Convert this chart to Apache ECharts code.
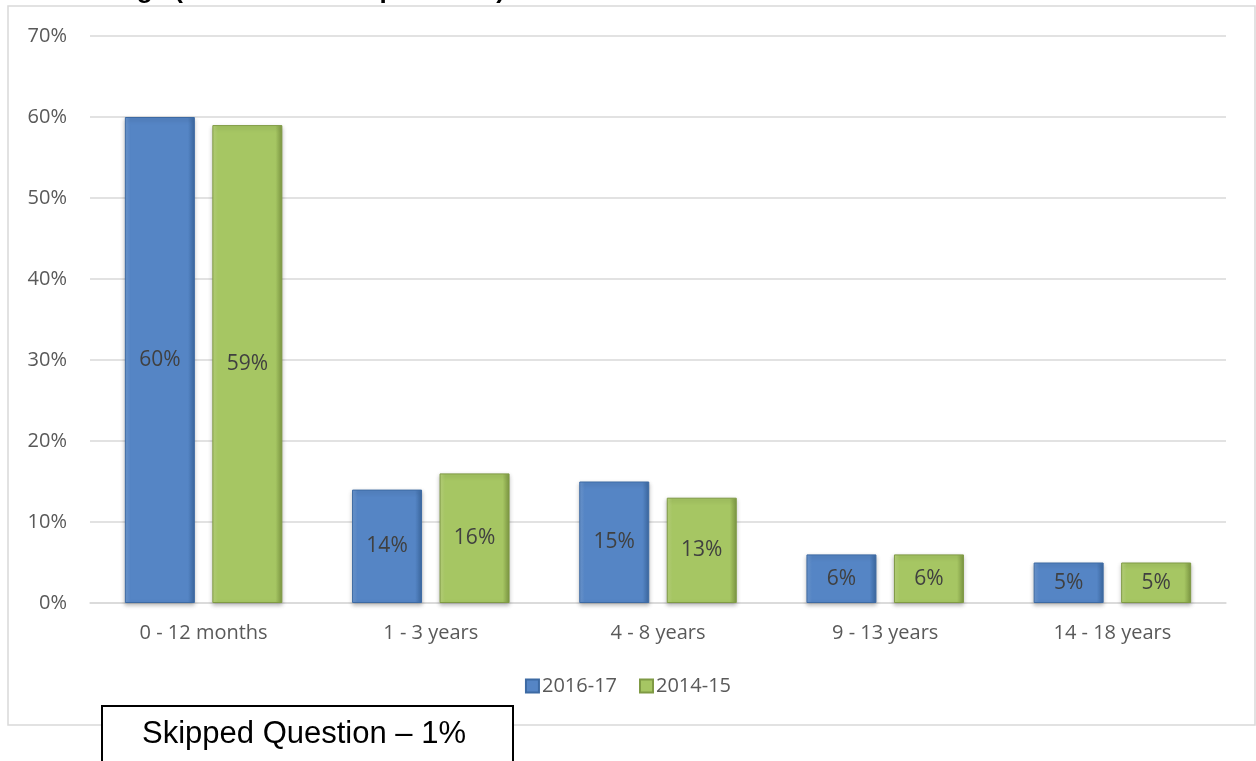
<!DOCTYPE html>
<html>
<head>
<meta charset="utf-8">
<script src="https://cdn.jsdelivr.net/npm/echarts@6/dist/echarts.min.js"></script>
<style>
  html, body { margin: 0; padding: 0; background: #fff; }
  #chart { width: 1256px; height: 761px; }
</style>
</head>
<body>
<div id="chart"></div>
<script>
// data
var categories = ['0 - 12 months', '1 - 3 years', '4 - 8 years', '9 - 13 years', '14 - 18 years'];
var seriesNames = ['2016-17', '2014-15'];
var values2016 = [60, 14, 15, 6, 5];
var values2014 = [59, 16, 13, 6, 5];
var yTicks = [0, 10, 20, 30, 40, 50, 60, 70];

var chart = echarts.init(document.getElementById('chart'));

function bevel(light, mid, dark) {
  return new echarts.graphic.LinearGradient(0, 0, 1, 0, [
    { offset: 0, color: light },
    { offset: 0.08, color: mid },
    { offset: 0.9, color: mid },
    { offset: 1, color: dark }
  ]);
}

var labelStyle = {
  show: true,
  position: 'inside',
  formatter: '{c}%',
  color: '#404040',
  fontSize: 21,
  fontFamily: 'Open Sans'
};

var option = {
  animation: false,
  title: {
    text: "Child's Age (based on all respondents)",
    left: 20,
    top: -27,
    textStyle: { fontFamily: 'Liberation Sans', fontWeight: 'bold', fontSize: 26, color: '#000' }
  },
  graphic: [
    {
      type: 'rect', z: -1,
      shape: { x: 8, y: 6, width: 1247, height: 719 },
      style: { fill: '#fff', stroke: '#d9d9d9', lineWidth: 1.5 }
    },
    {
      type: 'rect', z: 10,
      shape: { x: 102, y: 706, width: 411, height: 70 },
      style: { fill: '#fff', stroke: '#000', lineWidth: 2 }
    },
    {
      type: 'text', z: 11,
      left: 142, top: 719,
      style: { text: 'Skipped Question \u2013 1%', fill: '#000', font: '31px "Liberation Sans"' }
    }
  ],
  legend: {
    data: seriesNames,
    bottom: 60,
    left: 'center',
    itemWidth: 13,
    itemHeight: 13,
    itemGap: 22,
    icon: 'rect',
    textStyle: { color: '#595959', fontSize: 20, fontFamily: 'Open Sans', padding: [0, 0, 0, -2] }
  },
  grid: { left: 90, right: 30, top: 36, bottom: 158 },
  xAxis: {
    type: 'category',
    data: categories,
    axisTick: { show: false },
    axisLine: { lineStyle: { color: '#d9d9d9', width: 1.5 } },
    axisLabel: { color: '#595959', fontSize: 20, fontFamily: 'Open Sans', margin: 20 }
  },
  yAxis: {
    type: 'value',
    min: yTicks[0],
    max: yTicks[yTicks.length - 1],
    interval: 10,
    axisLine: { show: false },
    axisTick: { show: false },
    splitLine: { lineStyle: { color: '#d9d9d9', width: 1.5 } },
    axisLabel: { formatter: '{value}%', color: '#595959', fontSize: 20, fontFamily: 'Open Sans', margin: 23 }
  },
  series: [
    {
      name: seriesNames[0],
      type: 'bar',
      data: values2016,
      barWidth: 70,
      barGap: '25%',
      label: labelStyle,
      itemStyle: {
        color: bevel('#6f9ad3', '#5585c5', '#3d6aa3'),
        borderColor: '#3d6aa3',
        borderWidth: 1,
        shadowColor: 'rgba(0,0,0,0.25)',
        shadowBlur: 4,
        shadowOffsetY: 2
      }
    },
    {
      name: seriesNames[1],
      type: 'bar',
      data: values2014,
      barWidth: 70,
      label: labelStyle,
      itemStyle: {
        color: bevel('#bcd77e', '#a6c663', '#7f9a44'),
        borderColor: '#7f9a44',
        borderWidth: 1,
        shadowColor: 'rgba(0,0,0,0.25)',
        shadowBlur: 4,
        shadowOffsetY: 2
      }
    }
  ]
};

chart.setOption(option);
</script>
</body>
</html>
